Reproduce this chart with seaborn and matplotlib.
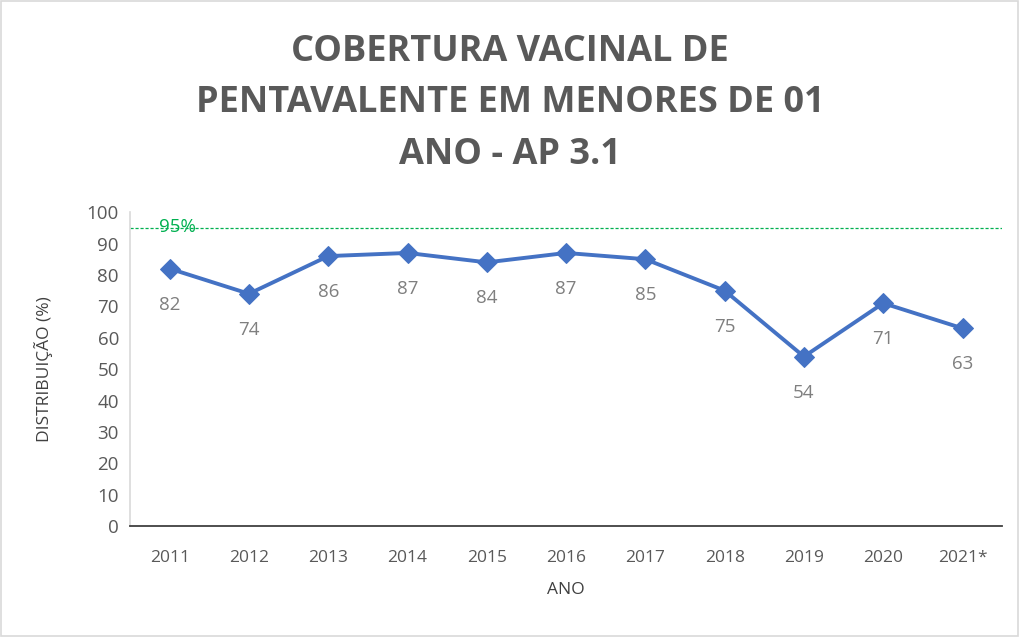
import matplotlib
matplotlib.use("Agg")
import matplotlib.pyplot as plt
import seaborn as sns
import pandas as pd
from matplotlib.patches import Rectangle

anos = ["2011", "2012", "2013", "2014", "2015", "2016", "2017", "2018", "2019", "2020", "2021*"]
cobertura = [82, 74, 86, 87, 84, 87, 85, 75, 54, 71, 63]
meta = 95
yticks = [0, 10, 20, 30, 40, 50, 60, 70, 80, 90, 100]

sns.set_theme(style="white")
plt.rcParams['font.family'] = ['Open Sans', 'DejaVu Sans']

df = pd.DataFrame({"ano": anos, "cobertura": cobertura})
df["pos"] = range(len(anos))

fig = plt.figure(figsize=(10.2, 6.37), dpi=100)
ax = fig.add_axes([0.1275, 0.174, 0.855, 0.493])

sns.lineplot(data=df, x="pos", y="cobertura", ax=ax, color="#4472C4",
             linewidth=2.8, marker="D", markersize=10, markeredgecolor="#4472C4")

for x, y in zip(df["pos"], df["cobertura"]):
    ax.annotate(str(y), (x, y), xytext=(0, -26), textcoords="offset points",
                ha="center", va="center", fontsize=13.5, color="#7F7F7F")

ax.axhline(meta, color="#00B050", linestyle=(0, (2.5, 1.5)), linewidth=0.9)
ax.text(0.1, meta + 0.3, f"{meta}%", color="#00B050", fontsize=13.5,
        ha="center", va="center")

ax.set_xlim(-0.5, len(anos) - 0.5)
ax.set_ylim(0, 100)
ax.set_yticks(yticks)
ax.set_yticklabels([str(v) for v in yticks], fontsize=13.5, color="#595959")
ax.set_xticks(list(df["pos"]))
ax.set_xticklabels(anos, fontsize=12.5, color="#595959")
ax.tick_params(axis="x", pad=17, length=0)
ax.tick_params(axis="y", pad=8, length=0)

ax.set_xlabel("ANO", fontsize=12.5, color="#404040", labelpad=12)
ax.set_ylabel("DISTRIBUIÇÃO (%)", fontsize=12.5, color="#404040", labelpad=24)

ax.spines["top"].set_visible(False)
ax.spines["right"].set_visible(False)
ax.spines["left"].set_color("#D9D9D9")
ax.spines["left"].set_linewidth(1.2)
ax.spines["bottom"].set_color("#404040")
ax.spines["bottom"].set_linewidth(1.3)

fig.text(0.5, 0.838, "COBERTURA VACINAL DE\nPENTAVALENTE EM MENORES DE 01\nANO - AP 3.1",
         ha="center", va="center", fontsize=26, fontweight="bold", color="#595959",
         linespacing=1.58)

fig.patches.append(Rectangle((0.001, 0.002), 0.997, 0.996, transform=fig.transFigure,
                             fill=False, edgecolor="#D9D9D9", linewidth=1.2))

fig.savefig("out.png", dpi=100, facecolor="white")
